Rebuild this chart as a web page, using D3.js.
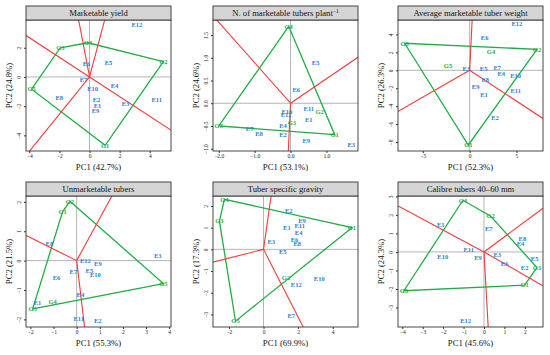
<!DOCTYPE html>
<html>
<head>
<meta charset="utf-8">
<script src="https://cdn.jsdelivr.net/npm/d3@7"></script>
<style>
  body { margin: 0; background: #fff; }
  svg { display: block; }
  text { font-family: "Liberation Serif", "DejaVu Serif", serif; }
</style>
</head>
<body>
<svg id="chart" width="550" height="355"></svg>
<script>
// Genotype and environment scores [label, PC1, PC2].
const yieldGen = [['G1', 1.04, -4.68], ['G2', 4.9, 1.05], ['G3', -1.94, 2.0], ['G4', -0.11, 2.34], ['G5', -3.85, -0.84]];
const yieldEnv = [['E1', 0.53, -1.98], ['E2', 0.46, -1.55], ['E3', 2.39, -1.86], ['E4', 1.66, -0.59], ['E5', 1.26, 1.0],
  ['E6', -0.2, 0.89], ['E7', -0.4, -0.18], ['E8', -2.01, -1.41], ['E9', 0.4, -2.3], ['E10', 0.2, -0.8],
  ['E11', 4.46, -1.59], ['E12', 3.14, 3.59]];

const tubersGen = [['G1', 1.23, -0.69], ['G2', 0.81, -0.19], ['G3', 0.04, -0.42], ['G4', -0.05, 1.69], ['G5', -2.0, -0.5]];
const tubersEnv = [['E1', 0.51, -0.37], ['E2', -0.21, -0.69], ['E3', 1.69, -0.92], ['E4', -0.21, -0.49], ['E5', 0.7, 0.9],
  ['E6', 0.16, 0.3], ['E7', -1.14, -0.55], ['E8', -0.88, -0.66], ['E9', 0.44, -0.82], ['E10', -0.1, -0.18],
  ['E11', 0.51, -0.11], ['E12', -0.12, -0.26]];

const weightGen = [['G1', -0.14, -8.33], ['G2', 7.19, 2.34], ['G3', -6.94, 3.01], ['G4', 2.28, 2.04], ['G5', -2.31, 0.48]];
const weightEnv = [['E1', 1.53, -2.68], ['E2', 2.7, -5.28], ['E3', -0.36, 0.22], ['E4', 3.38, -0.37], ['E5', 1.49, 0.22],
  ['E6', 1.6, 3.64], ['E7', 2.95, 0.3], ['E8', 1.67, -1.04], ['E9', 0.64, -1.82], ['E10', 4.91, -0.56],
  ['E11', 4.91, -2.3], ['E12', 5.05, 5.24]];

const unmarkGen = [['G1', -0.61, 1.66], ['G2', -0.29, 2.02], ['G3', -1.9, -1.64], ['G4', -1.04, -1.39], ['G5', 3.75, -0.78]];
const unmarkEnv = [['E1', -1.69, -1.42], ['E2', 0.91, -2.06], ['E3', 3.51, 0.15], ['E4', 0.16, -1.16], ['E5', 0.55, -0.33],
  ['E6', -0.87, -0.58], ['E7', -0.14, -0.39], ['E8', -1.18, 0.58], ['E9', 0.92, -0.1], ['E10', 0.81, -0.48],
  ['E11', 0.09, -1.98], ['E12', 0.38, -0.02]];

const gravityGen = [['G1', 5.11, 1.0], ['G2', 1.3, -1.33], ['G3', -2.55, 1.3], ['G4', -2.26, 2.31], ['G5', -1.62, -3.31]];
const gravityEnv = [['E1', 1.35, 1.0], ['E2', 1.46, 1.8], ['E3', 0.45, 0.34], ['E4', 2.03, 0.75], ['E5', 1.11, -0.12],
  ['E6', 1.79, 0.46], ['E7', 1.6, -3.05], ['E8', 1.95, 0.25], ['E9', 2.22, 1.34], ['E10', 3.22, -1.35],
  ['E11', 2.09, 1.11], ['E12', 1.89, -1.63]];

const calibreGen = [['G1', 1.99, -1.79], ['G2', 0.33, 1.93], ['G3', 2.59, -0.84], ['G4', -1.03, 2.79], ['G5', -3.92, -2.09]];
const calibreEnv = [['E1', -2.12, 1.48], ['E2', 1.99, -0.84], ['E3', 0.65, -0.16], ['E4', 1.79, 0.46], ['E5', 2.48, -0.36],
  ['E6', 1.01, -0.66], ['E7', 0.23, 1.25], ['E8', 1.88, 0.73], ['E9', -0.29, -0.3], ['E10', -2.02, -0.25],
  ['E11', -0.75, 0.14], ['E12', -0.9, -3.73]];

// Tick labels of each panel
const yieldXTicks = [-4, -2, 0, 2, 4], yieldYTicks = [-4, -2, 0, 2];
const tubersXTicks = [-2, -1, 0, 1], tubersYTicks = [-1, -0.5, 0, 0.5, 1, 1.5];
const weightXTicks = [-5, 0, 5], weightYTicks = [-8, -6, -4, -2, 0, 2, 4];
const unmarkXTicks = [-2, -1, 0, 1, 2, 3, 4], unmarkYTicks = [-2, -1, 0, 1, 2];
const gravityXTicks = [-2, 0, 2, 4], gravityYTicks = [-3, -2, -1, 0, 1, 2];
const calibreXTicks = [-4, -3, -2, -1, 0, 1, 2], calibreYTicks = [-3, -2, -1, 0, 1, 2, 3];

const panels = [
  {title: ['Marketable yield'], gen: yieldGen, env: yieldEnv, xlab: 'PC1 (42.7%)', ylab: 'PC2 (24.8%)',
   xdom: [-4.22, 5.41], ydom: [-5.07, 3.9], xt: yieldXTicks, yt: yieldYTicks, fmt: d3.format('d')},
  {title: ['N. of marketable tubers plant', '\u22121'], gen: tubersGen, env: tubersEnv, xlab: 'PC1 (53.1%)', ylab: 'PC2 (24.6%)',
   xdom: [-2.16, 1.88], ydom: [-1.05, 1.83], xt: tubersXTicks, yt: tubersYTicks, fmt: d3.format('.1f')},
  {title: ['Average marketable tuber weight'], gen: weightGen, env: weightEnv, xlab: 'PC1 (52.3%)', ylab: 'PC2 (26.3%)',
   xdom: [-7.65, 7.83], ydom: [-9.0, 5.61], xt: weightXTicks, yt: weightYTicks, fmt: d3.format('d')},
  {title: ['Unmarketable tubers'], gen: unmarkGen, env: unmarkEnv, xlab: 'PC1 (55.3%)', ylab: 'PC2 (21.5%)',
   xdom: [-2.19, 4.08], ydom: [-2.26, 2.2], xt: unmarkXTicks, yt: unmarkYTicks, fmt: d3.format('d')},
  {title: ['Tuber specific gravity'], gen: gravityGen, env: gravityEnv, xlab: 'PC1 (69.9%)', ylab: 'PC2 (17.3%)',
   xdom: [-2.92, 5.46], ydom: [-3.58, 2.46], xt: gravityXTicks, yt: gravityYTicks, fmt: d3.format('d')},
  {title: ['Calibre tubers 40\u201360 mm'], gen: calibreGen, env: calibreEnv, xlab: 'PC1 (45.6%)', ylab: 'PC2 (24.3%)',
   xdom: [-4.21, 2.89], ydom: [-4.05, 3.02], xt: calibreXTicks, yt: calibreYTicks, fmt: d3.format('d')}
];

const GREEN = '#1fae45', RED = '#f43a3a', BLUE = '#2a7fd3';
const lefts = [26, 213, 398], tops = [6, 182];
const W = 145, STRIP = 14, H = 131;
const minus = s => s.replace('-', '-');

const svg = d3.select('#chart');

panels.forEach((p, i) => {
  const g = svg.append('g')
    .attr('transform', 'translate(' + lefts[i % 3] + ',' + tops[Math.floor(i / 3)] + ')');
  const x = d3.scaleLinear().domain(p.xdom).range([0, W]);
  const y = d3.scaleLinear().domain(p.ydom).range([STRIP + H, STRIP]);

  //clip everything inside the plot box
  g.append('clipPath').attr('id', 'clip' + i)
    .append('rect').attr('x', 0).attr('y', STRIP).attr('width', W).attr('height', H);
  const plot = g.append('g').attr('clip-path', 'url(#clip' + i + ')');

  //zero lines
  plot.append('line').attr('x1', x(0)).attr('x2', x(0)).attr('y1', STRIP).attr('y2', STRIP + H)
    .attr('stroke', '#b4b4b4').attr('stroke-width', 1);
  plot.append('line').attr('x1', 0).attr('x2', W).attr('y1', y(0)).attr('y2', y(0))
    .attr('stroke', '#b4b4b4').attr('stroke-width', 1);

  //which-won-where polygon
  const pts = p.gen.map(d => [d[1], d[2]]);
  const hull = d3.polygonHull(pts);
  plot.append('path')
    .attr('d', 'M' + hull.map(d => x(d[0]) + ',' + y(d[1])).join('L') + 'Z')
    .attr('fill', 'none').attr('stroke', GREEN).attr('stroke-width', 1.3);

  //rays from the origin, perpendicular to the polygon sides
  hull.forEach((a, k) => {
    const b = hull[(k + 1) % hull.length];
    const dx = b[0] - a[0], dy = b[1] - a[1];
    const t = -(a[0] * dx + a[1] * dy) / (dx * dx + dy * dy);
    if (t < 0 || t > 1) return;
    const fx = a[0] + t * dx, fy = a[1] + t * dy;
    const len = Math.hypot(fx, fy), s = 60 / len;
    plot.append('line')
      .attr('x1', x(0)).attr('y1', y(0))
      .attr('x2', x(fx * s)).attr('y2', y(fy * s))
      .attr('stroke', RED).attr('stroke-width', 1.1);
  });

  //labels
  plot.selectAll('text.env').data(p.env).join('text')
    .attr('class', 'env')
    .attr('x', d => x(d[1])).attr('y', d => y(d[2])).attr('dy', '0.35em')
    .attr('text-anchor', 'middle').attr('font-size', 6.5).attr('font-weight', 'bold')
    .attr('fill', BLUE).text(d => d[0]);
  plot.selectAll('text.gen').data(p.gen).join('text')
    .attr('class', 'gen')
    .attr('x', d => x(d[1])).attr('y', d => y(d[2])).attr('dy', '0.35em')
    .attr('text-anchor', 'middle').attr('font-size', 6.5).attr('font-weight', 'bold')
    .attr('fill', GREEN).text(d => d[0]);

  //frame and title strip
  g.append('rect').attr('x', 0).attr('y', STRIP).attr('width', W).attr('height', H)
    .attr('fill', 'none').attr('stroke', '#333').attr('stroke-width', 0.9);
  g.append('rect').attr('x', 0).attr('y', 0).attr('width', W).attr('height', STRIP)
    .attr('fill', '#d5d5d5').attr('stroke', '#333').attr('stroke-width', 0.9);
  const title = g.append('text').attr('x', W / 2).attr('y', STRIP / 2).attr('dy', '0.35em')
    .attr('text-anchor', 'middle').attr('font-size', 8.6).attr('fill', '#111');
  title.append('tspan').text(p.title[0]);
  if (p.title[1]) {
    title.append('tspan').attr('font-size', 5.5).attr('dy', '-0.5em').text(p.title[1]);
  }

  //axes
  const xAxis = d3.axisBottom(x).tickValues(p.xt).tickSize(2).tickPadding(1.5).tickFormat(p.fmt);
  const gx = g.append('g').attr('transform', 'translate(0,' + (STRIP + H) + ')').call(xAxis);
  gx.select('.domain').remove();
  gx.selectAll('text').attr('font-size', 5.5).attr('font-family', '"Liberation Serif", serif').attr('fill', '#222');
  gx.selectAll('line').attr('stroke', '#333');

  const yAxis = d3.axisLeft(y).tickValues(p.yt).tickSize(2).tickFormat(p.fmt);
  const gy = g.append('g').call(yAxis);
  gy.select('.domain').remove();
  gy.selectAll('line').attr('stroke', '#333');
  gy.selectAll('text')
    .attr('x', null).attr('dy', null)
    .attr('text-anchor', 'middle')
    .attr('transform', 'translate(-5,0) rotate(-90)')
    .attr('font-size', 5.5).attr('font-family', '"Liberation Serif", serif').attr('fill', '#222');

  //axis titles
  g.append('text').attr('x', W / 2).attr('y', STRIP + H + 18.5)
    .attr('text-anchor', 'middle').attr('font-size', 8.7).attr('fill', '#111').text(p.xlab);
  g.append('text')
    .attr('transform', 'translate(-14,' + (STRIP + H / 2) + ') rotate(-90)')
    .attr('text-anchor', 'middle').attr('font-size', 8.7).attr('fill', '#111').text(p.ylab);
});
</script>
</body>
</html>
